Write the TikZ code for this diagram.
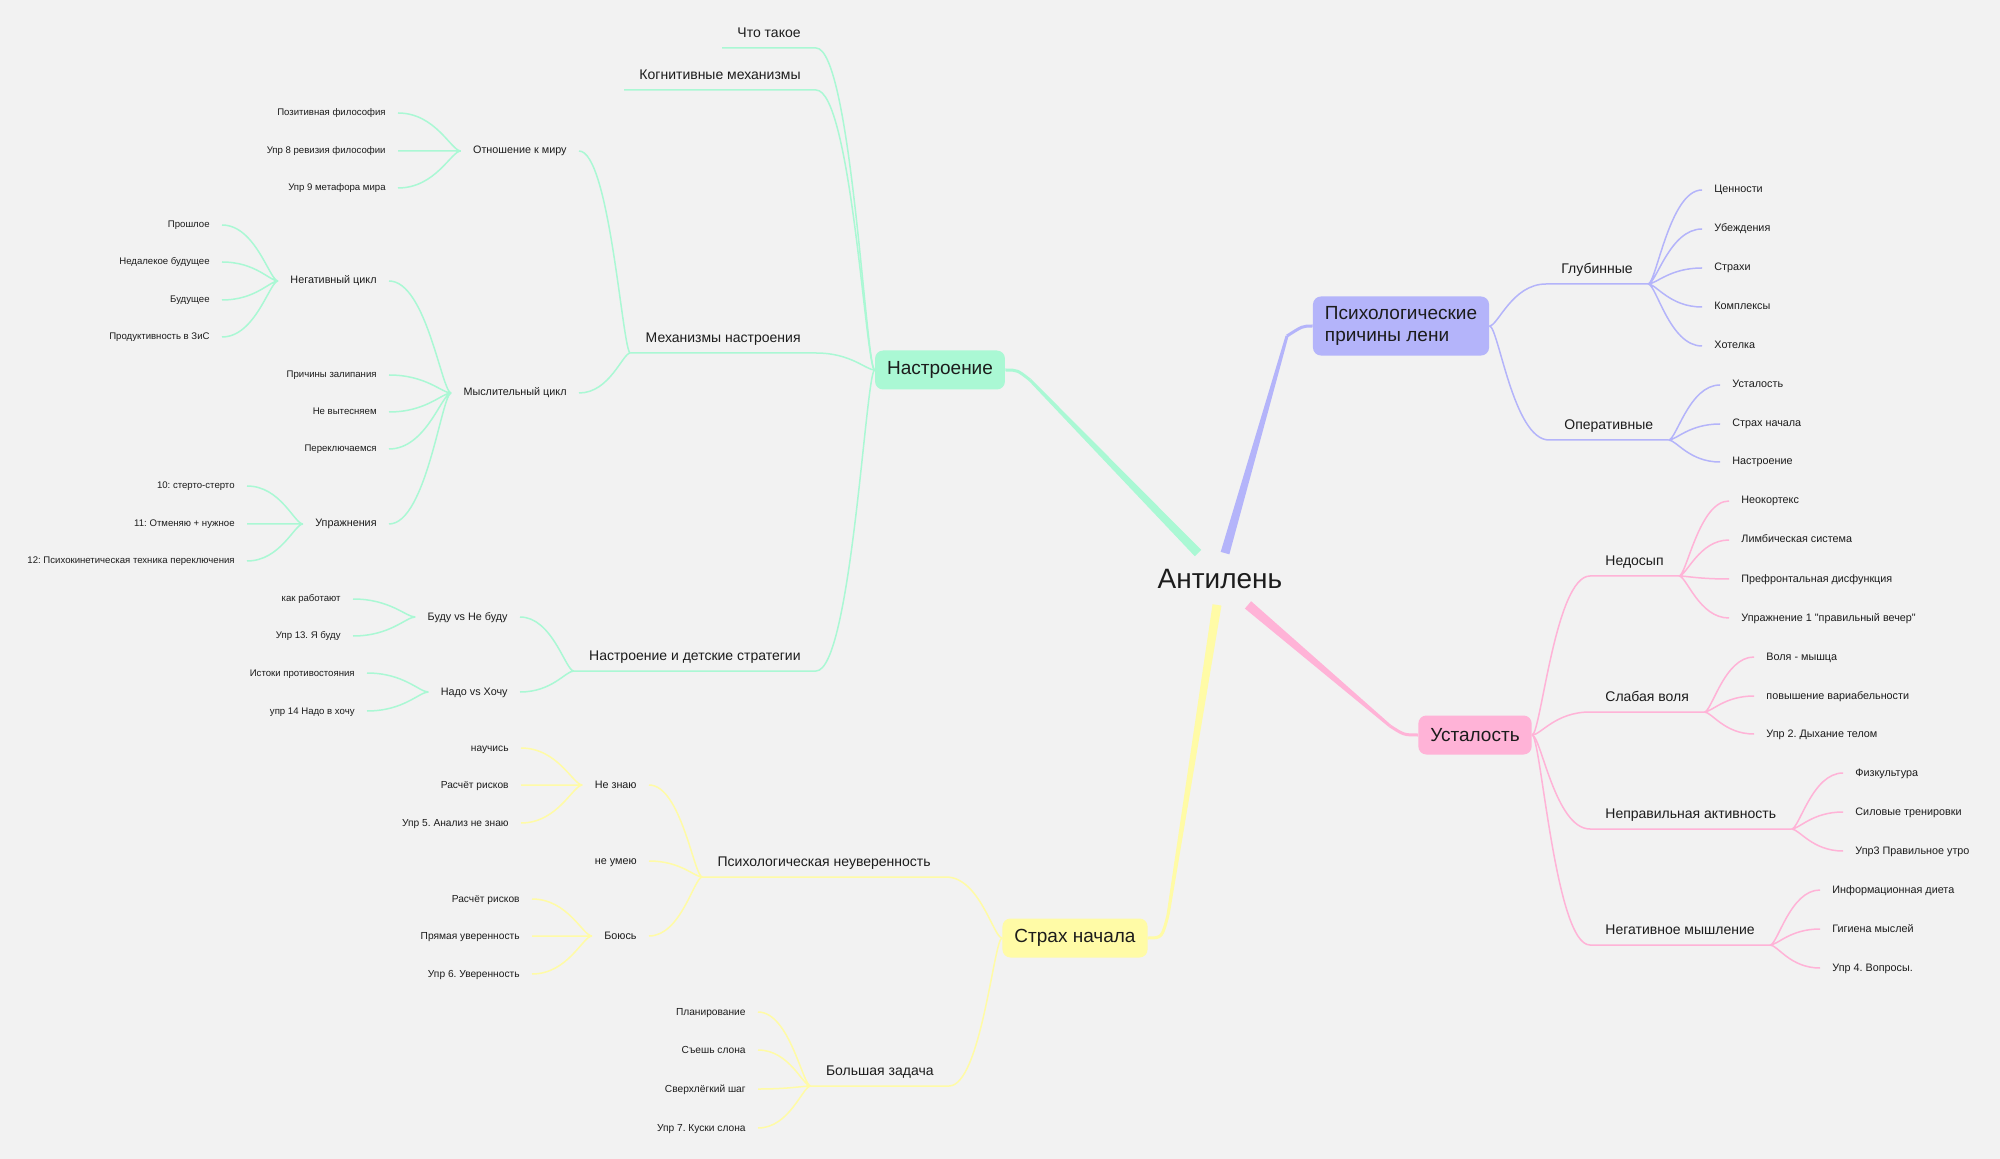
\documentclass[tikz,border=0pt]{standalone}
\usepackage{fontspec}
\setmainfont{Liberation Sans}[Ligatures=TeXOff]
\frenchspacing
\usetikzlibrary{calc}

\definecolor{paper}{HTML}{F2F2F2}
\definecolor{ink}{HTML}{1C1C1C}
\definecolor{mint}{HTML}{AAF8D4}
\definecolor{lav}{HTML}{B4B4FA}
\definecolor{rose}{HTML}{FFB3D7}
\definecolor{lemon}{HTML}{FFFBA6}

\tikzset{
  leaf/.style={font=\fontsize{5.4}{6.5}\selectfont, text=ink, inner xsep=6pt, inner ysep=1pt, text height=3.9pt, text depth=0.9pt},
  tip/.style={leaf, font=\fontsize{4.8}{6}\selectfont},
  bud/.style={leaf, font=\fontsize{5.1}{6}\selectfont},
  sub/.style={font=\fontsize{7}{8.4}\selectfont, text=ink, inner xsep=7.5pt, inner ysep=3.5pt, text height=5pt, text depth=1.5pt},
  topic/.style={font=\fontsize{9.5}{11}\selectfont, text=ink, rounded corners=4pt, inner xsep=6pt, minimum height=19.5pt},
  wire/.style={line width=0.75pt},
  fan/.style={to path={.. controls ($(\tikztostart)!0.6!(\tikztotarget|-\tikztostart)$) and ($(\tikztotarget)!0.15!(\tikztostart|-\tikztotarget)$) .. (\tikztotarget)}},
}

\begin{document}
\begin{tikzpicture}[x=0.5pt, y=-0.5pt]
  \fill[paper] (0,0) rectangle (2000,1159);
  \useasboundingbox (0,0) rectangle (2000,1159);

  % centre and the four topics
  \node[font=\fontsize{14}{16}\selectfont, text=ink, minimum height=25.5pt, inner sep=0pt] (root) at (1220,579) {Антилень};
  \node[topic, fill=mint] (mood) at (940,370) {Настроение};
  \node[topic, fill=lav, align=left, inner ysep=5pt] (psych) at (1401,326) {Психологические\\причины лени};
  \node[topic, fill=rose] (tired) at (1475,735) {Усталость};
  \node[topic, fill=lemon] (fear) at (1075,938) {Страх начала};

  % trunks
  \coordinate (g0) at ($(root.north)+(-22,0)$);
  \coordinate (g1) at (1030,380);
  \coordinate (p0) at ($(root.north)+(5,0)$);
  \coordinate (p1) at (1287,336);
  \coordinate (y0) at ($(root.south)+(-3,0)$);
  \coordinate (y1) at (1168,915);
  \coordinate (r0) at ($(root.south)+(28,0)$);
  \coordinate (r1) at (1390,726);
  \fill[mint] ($(g0)!2.25pt!90:(g1)$) -- ($(g1)!0.75pt!-90:(g0)$) -- ($(g1)!0.75pt!90:(g0)$) -- ($(g0)!2.25pt!-90:(g1)$) -- cycle;
  \draw[mint, line width=1.5pt] (g1) .. controls ($(mood.east)+(12,0)$) .. (mood.east);
  \fill[lav] ($(p0)!2.25pt!90:(p1)$) -- ($(p1)!0.75pt!-90:(p0)$) -- ($(p1)!0.75pt!90:(p0)$) -- ($(p0)!2.25pt!-90:(p1)$) -- cycle;
  \draw[lav, line width=1.5pt] (p1) .. controls ($(psych.west)+(-10,0)$) .. (psych.west);
  \fill[lemon] ($(y0)!2.25pt!90:(y1)$) -- ($(y1)!0.75pt!-90:(y0)$) -- ($(y1)!0.75pt!90:(y0)$) -- ($(y0)!2.25pt!-90:(y1)$) -- cycle;
  \draw[lemon, line width=1.5pt] (y1) .. controls ($(fear.east)+(14,0)$) .. (fear.east);
  \fill[rose] ($(r0)!2.4pt!90:(r1)$) -- ($(r1)!0.75pt!-90:(r0)$) -- ($(r1)!0.75pt!90:(r0)$) -- ($(r0)!2.4pt!-90:(r1)$) -- cycle;
  \draw[rose, line width=1.5pt] (r1) .. controls ($(tired.west)+(-14,0)$) .. (tired.west);

  % Настроение
  \node[sub, anchor=south east] (what) at (816,48) {Что такое};
  \node[sub, anchor=south east] (cogn) at (816,90) {Когнитивные механизмы};
  \node[sub, anchor=south east] (mech) at (816,353) {Механизмы настроения};
  \node[sub, anchor=south east] (kids) at (816,671) {Настроение и детские стратегии};
  \node[leaf, anchor=east] (world) at (579,151) {Отношение к миру};
  \node[leaf, anchor=east] (mind) at (579,393) {Мыслительный цикл};
  \node[leaf, anchor=east] (neg) at (389,281) {Негативный цикл};
  \node[leaf, anchor=east] (drill) at (389,524) {Упражнения};
  \node[leaf, anchor=east] (will) at (520,617) {Буду vs Не буду};
  \node[leaf, anchor=east] (must) at (520,692) {Надо vs Хочу};
  \node[tip, anchor=east] (w1) at (398,113) {Позитивная философия};
  \node[tip, anchor=east] (w2) at (398,151) {Упр 8 ревизия философии};
  \node[tip, anchor=east] (w3) at (398,188) {Упр 9 метафора мира};
  \node[tip, anchor=east] (n1) at (222,225) {Прошлое};
  \node[tip, anchor=east] (n2) at (222,262) {Недалекое будущее};
  \node[tip, anchor=east] (n3) at (222,300) {Будущее};
  \node[tip, anchor=east] (n4) at (222,337) {Продуктивность в ЗиС};
  \node[tip, anchor=east] (m1) at (389,375) {Причины залипания};
  \node[tip, anchor=east] (m2) at (389,412) {Не вытесняем};
  \node[tip, anchor=east] (m3) at (389,449) {Переключаемся};
  \node[tip, anchor=east] (d1) at (247,486) {10: стерто-стерто};
  \node[tip, anchor=east] (d2) at (247,524) {11: Отменяю + нужное};
  \node[tip, anchor=east] (d3) at (247,561) {12: Психокинетическая техника переключения};
  \node[tip, anchor=east] (b1) at (353,599) {как работают};
  \node[tip, anchor=east] (b2) at (353,636) {Упр 13. Я буду};
  \node[tip, anchor=east] (h1) at (367,673) {Истоки противостояния};
  \node[tip, anchor=east] (h2) at (367,711) {упр 14 Надо в хочу};

  \draw[wire, mint] (what.south west) -- (what.south east) to[fan] (mood.west);
  \draw[wire, mint] (cogn.south west) -- (cogn.south east) to[fan] (mood.west);
  \draw[wire, mint] (mech.south west) -- (mech.south east) to[fan] (mood.west);
  \draw[wire, mint] (kids.south west) -- (kids.south east) to[fan] (mood.west);
  \draw[wire, mint] (world.east) to[fan] (mech.south west) (mind.east) to[fan] (mech.south west);
  \draw[wire, mint] (w1.east) to[fan] (world.west) (w2.east) to[fan] (world.west) (w3.east) to[fan] (world.west);
  \draw[wire, mint] (neg.east) to[fan] (mind.west) (m1.east) to[fan] (mind.west) (m2.east) to[fan] (mind.west)
    (m3.east) to[fan] (mind.west) (drill.east) to[fan] (mind.west);
  \draw[wire, mint] (n1.east) to[fan] (neg.west) (n2.east) to[fan] (neg.west) (n3.east) to[fan] (neg.west) (n4.east) to[fan] (neg.west);
  \draw[wire, mint] (d1.east) to[fan] (drill.west) (d2.east) to[fan] (drill.west) (d3.east) to[fan] (drill.west);
  \draw[wire, mint] (will.east) to[fan] (kids.south west) (must.east) to[fan] (kids.south west);
  \draw[wire, mint] (b1.east) to[fan] (will.west) (b2.east) to[fan] (will.west);
  \draw[wire, mint] (h1.east) to[fan] (must.west) (h2.east) to[fan] (must.west);

  % Страх начала
  \node[sub, anchor=south east] (unsure) at (946,877) {Психологическая неуверенность};
  \node[sub, anchor=south east] (big) at (949,1086) {Большая задача};
  \node[leaf, anchor=east] (dunno) at (649,785) {Не знаю};
  \node[leaf, anchor=east] (cant) at (649,861) {не умею};
  \node[leaf, anchor=east] (afraid) at (649,936) {Боюсь};
  \node[bud, anchor=east] (k1) at (521,748) {научись};
  \node[bud, anchor=east] (k2) at (521,785) {Расчёт рисков};
  \node[bud, anchor=east] (k3) at (521,823) {Упр 5. Анализ не знаю};
  \node[bud, anchor=east] (a1) at (532,899) {Расчёт рисков};
  \node[bud, anchor=east] (a2) at (532,936) {Прямая уверенность};
  \node[bud, anchor=east] (a3) at (532,974) {Упр 6. Уверенность};
  \node[bud, anchor=east] (e1) at (758,1012) {Планирование};
  \node[bud, anchor=east] (e2) at (758,1050) {Съешь слона};
  \node[bud, anchor=east] (e3) at (758,1089) {Сверхлёгкий шаг};
  \node[bud, anchor=east] (e4) at (758,1128) {Упр 7. Куски слона};

  \draw[wire, lemon] (unsure.south west) -- (unsure.south east) to[fan] (fear.west);
  \draw[wire, lemon] (big.south west) -- (big.south east) to[fan] (fear.west);
  \draw[wire, lemon] (dunno.east) to[fan] (unsure.south west) (cant.east) to[fan] (unsure.south west) (afraid.east) to[fan] (unsure.south west);
  \draw[wire, lemon] (k1.east) to[fan] (dunno.west) (k2.east) to[fan] (dunno.west) (k3.east) to[fan] (dunno.west);
  \draw[wire, lemon] (a1.east) to[fan] (afraid.west) (a2.east) to[fan] (afraid.west) (a3.east) to[fan] (afraid.west);
  \draw[wire, lemon] (e1.east) to[fan] (big.south west) (e2.east) to[fan] (big.south west) (e3.east) to[fan] (big.south west)
    (e4.east) to[fan] (big.south west);

  % Психологические причины лени
  \node[sub, anchor=south west] (deep) at (1546,284) {Глубинные};
  \node[sub, anchor=south west] (oper) at (1549,440) {Оперативные};
  \node[leaf, anchor=west] (v1) at (1702,190) {Ценности};
  \node[leaf, anchor=west] (v2) at (1702,229) {Убеждения};
  \node[leaf, anchor=west] (v3) at (1702,268) {Страхи};
  \node[leaf, anchor=west] (v4) at (1702,307) {Комплексы};
  \node[leaf, anchor=west] (v5) at (1702,346) {Хотелка};
  \node[leaf, anchor=west] (o1) at (1720,385) {Усталость};
  \node[leaf, anchor=west] (o2) at (1720,424) {Страх начала};
  \node[leaf, anchor=west] (o3) at (1720,462) {Настроение};

  \draw[wire, lav] (deep.south east) -- (deep.south west) to[fan] (psych.east);
  \draw[wire, lav] (oper.south east) -- (oper.south west) to[fan] (psych.east);
  \draw[wire, lav] (v1.west) to[fan] (deep.south east) (v2.west) to[fan] (deep.south east) (v3.west) to[fan] (deep.south east)
    (v4.west) to[fan] (deep.south east) (v5.west) to[fan] (deep.south east);
  \draw[wire, lav] (o1.west) to[fan] (oper.south east) (o2.west) to[fan] (oper.south east) (o3.west) to[fan] (oper.south east);

  % Усталость
  \node[sub, anchor=south west] (sleep) at (1590,576) {Недосып};
  \node[sub, anchor=south west] (weak) at (1590,712) {Слабая воля};
  \node[sub, anchor=south west] (act) at (1590,829) {Неправильная активность};
  \node[sub, anchor=south west] (negt) at (1590,945) {Негативное мышление};
  \node[leaf, anchor=west] (s1) at (1729,501) {Неокортекс};
  \node[leaf, anchor=west] (s2) at (1729,540) {Лимбическая система};
  \node[leaf, anchor=west] (s3) at (1729,579) {Префронтальная дисфункция};
  \node[leaf, anchor=west] (s4) at (1729,618) {Упражнение 1 "правильный вечер"};
  \node[leaf, anchor=west] (l1) at (1754,657) {Воля - мышца};
  \node[leaf, anchor=west] (l2) at (1754,696) {повышение вариабельности};
  \node[leaf, anchor=west] (l3) at (1754,734) {Упр 2. Дыхание телом};
  \node[leaf, anchor=west] (f1) at (1843,773) {Физкультура};
  \node[leaf, anchor=west] (f2) at (1843,812) {Силовые тренировки};
  \node[leaf, anchor=west] (f3) at (1843,851) {Упр3 Правильное утро};
  \node[leaf, anchor=west] (t1) at (1820,890) {Информационная диета};
  \node[leaf, anchor=west] (t2) at (1820,929) {Гигиена мыслей};
  \node[leaf, anchor=west] (t3) at (1820,968) {Упр 4. Вопросы.};

  \draw[wire, rose] (sleep.south east) -- (sleep.south west) to[fan] (tired.east);
  \draw[wire, rose] (weak.south east) -- (weak.south west) to[fan] (tired.east);
  \draw[wire, rose] (act.south east) -- (act.south west) to[fan] (tired.east);
  \draw[wire, rose] (negt.south east) -- (negt.south west) to[fan] (tired.east);
  \draw[wire, rose] (s1.west) to[fan] (sleep.south east) (s2.west) to[fan] (sleep.south east) (s3.west) to[fan] (sleep.south east)
    (s4.west) to[fan] (sleep.south east);
  \draw[wire, rose] (l1.west) to[fan] (weak.south east) (l2.west) to[fan] (weak.south east) (l3.west) to[fan] (weak.south east);
  \draw[wire, rose] (f1.west) to[fan] (act.south east) (f2.west) to[fan] (act.south east) (f3.west) to[fan] (act.south east);
  \draw[wire, rose] (t1.west) to[fan] (negt.south east) (t2.west) to[fan] (negt.south east) (t3.west) to[fan] (negt.south east);
\end{tikzpicture}
\end{document}
